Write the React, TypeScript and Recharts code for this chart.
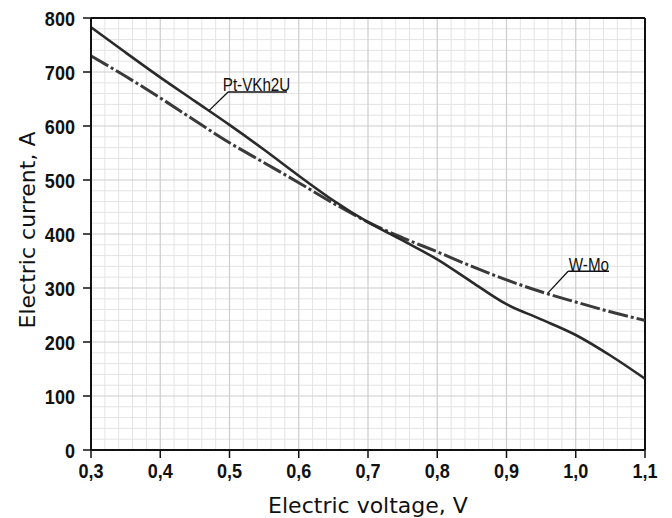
import { LineChart, Line, XAxis, YAxis, CartesianGrid, ReferenceLine, ReferenceDot, Label } from "recharts";

// electric voltage, V
const voltage = [0.3, 0.35, 0.4, 0.45, 0.5, 0.55, 0.6, 0.65, 0.7, 0.75, 0.8, 0.85, 0.9, 0.95, 1.0, 1.05, 1.1];
// electric current, A
const ptVkh2u = [783, 736, 690, 646, 602, 556, 508, 462, 422, 388, 353, 311, 270, 242, 213, 175, 132];
const wMo = [730, 692, 652, 610, 569, 532, 495, 457, 422, 393, 367, 340, 315, 293, 274, 256, 240];

const xTicks = [0.3, 0.4, 0.5, 0.6, 0.7, 0.8, 0.9, 1.0, 1.1];
const yTicks = [0, 100, 200, 300, 400, 500, 600, 700, 800];
const xMinor = [0.32, 0.34, 0.36, 0.38, 0.42, 0.44, 0.46, 0.48, 0.52, 0.54, 0.56, 0.58, 0.62, 0.64, 0.66, 0.68, 0.72, 0.74, 0.76, 0.78, 0.82, 0.84, 0.86, 0.88, 0.92, 0.94, 0.96, 0.98, 1.02, 1.04, 1.06, 1.08];
const yMinor = [20, 40, 60, 80, 120, 140, 160, 180, 220, 240, 260, 280, 320, 340, 360, 380, 420, 440, 460, 480, 520, 540, 560, 580, 620, 640, 660, 680, 720, 740, 760, 780];

const data = voltage.map((v, i) => ({ v, pt: ptVkh2u[i], w: wMo[i] }));

const narrow = "'Liberation Sans', Arial, sans-serif";
const titleFont = { fontFamily: "'DejaVu Sans', sans-serif", fontSize: 22, fill: "#111" };

const fmt = (v: number) => v.toFixed(1).replace(".", ",");

// condensed bold tick text (the original uses a narrow face)
function XTick({ x, y, payload }: any) {
  return (
    <g transform={`translate(${x},${y + 20})`}>
      <text transform="scale(0.86,1)" textAnchor="middle" fontFamily={narrow} fontWeight={700} fontSize={21} fill="#111">
        {fmt(payload.value)}
      </text>
    </g>
  );
}

function YTick({ x, y, payload }: any) {
  return (
    <g transform={`translate(${x},${y + 7.5})`}>
      <text transform="scale(0.86,1)" textAnchor="end" fontFamily={narrow} fontWeight={700} fontSize={21} fill="#111">
        {payload.value}
      </text>
    </g>
  );
}

function Note({ viewBox, value }: any) {
  const cx = viewBox.x + (viewBox.width || 0) / 2;
  const cy = viewBox.y + (viewBox.height || 0) / 2;
  return (
    <g transform={`translate(${cx},${cy + 7})`}>
      <text transform="scale(0.8,1)" textAnchor="middle" fontFamily={narrow} fontSize={19} fill="#111">
        {value}
      </text>
    </g>
  );
}

export default function App() {
  return (
    <div style={{ position: "absolute", left: 0, top: 0, width: 672, height: 518, background: "#fff" }}>
      <LineChart width={672} height={518} data={data} margin={{ top: 18, right: 27, bottom: 0, left: 0 }}>
        <CartesianGrid stroke="#e4e4e4" strokeWidth={1} horizontalValues={yMinor} verticalValues={xMinor} />
        <CartesianGrid stroke="#cdcdcd" strokeWidth={1.2} />
        <XAxis
          type="number"
          dataKey="v"
          domain={[0.3, 1.1]}
          ticks={xTicks}
          height={68}
          tickSize={8}
          tickMargin={0}
          axisLine={{ stroke: "#111", strokeWidth: 2 }}
          tickLine={{ stroke: "#111", strokeWidth: 1.5 }}
          tick={<XTick />}
          interval={0}
        >
          <Label
            content={({ viewBox }: any) => (
              <text x={viewBox.x + viewBox.width / 2} y={513} textAnchor="middle" style={titleFont}>
                Electric voltage, V
              </text>
            )}
          />
        </XAxis>
        <YAxis
          type="number"
          domain={[0, 800]}
          ticks={yTicks}
          width={91}
          tickSize={8}
          tickMargin={8}
          axisLine={{ stroke: "#111", strokeWidth: 2 }}
          tickLine={{ stroke: "#111", strokeWidth: 1.5 }}
          tick={<YTick />}
          interval={0}
        >
          <Label
            content={() => (
              <text x={35} y={230} transform="rotate(-90 35 230)" textAnchor="middle" style={titleFont}>
                Electric current, A
              </text>
            )}
          />
        </YAxis>
        <ReferenceLine y={800} stroke="#111" strokeWidth={2} />
        <ReferenceLine x={1.1} stroke="#111" strokeWidth={2} />
        <Line dataKey="w" type="monotone" stroke="#3a3a3a" strokeWidth={3} strokeDasharray="20 3 3 3" dot={false} isAnimationActive={false} />
        <Line dataKey="pt" type="monotone" stroke="#2a2a2a" strokeWidth={2.6} dot={false} isAnimationActive={false} />
        <ReferenceLine segment={[{ x: 0.498, y: 663 }, { x: 0.583, y: 663 }]} stroke="#111" strokeWidth={1.3} />
        <ReferenceLine segment={[{ x: 0.47, y: 628 }, { x: 0.498, y: 663 }]} stroke="#111" strokeWidth={1.3} />
        <ReferenceDot x={0.539} y={678} r={0} stroke="none" label={<Note value="Pt-VKh2U" />} />
        <ReferenceLine segment={[{ x: 0.989, y: 331 }, { x: 1.048, y: 331 }]} stroke="#111" strokeWidth={1.3} />
        <ReferenceLine segment={[{ x: 0.96, y: 291 }, { x: 0.989, y: 331 }]} stroke="#111" strokeWidth={1.3} />
        <ReferenceDot x={1.019} y={345} r={0} stroke="none" label={<Note value="W-Mo" />} />
      </LineChart>
    </div>
  );
}
